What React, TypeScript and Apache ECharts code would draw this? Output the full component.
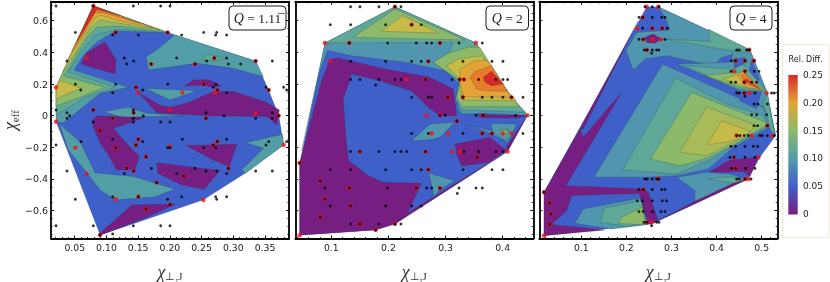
import React, { useEffect, useRef } from "react";
import * as echarts from "echarts";

type Pt = number[];
const PURPLE = "#761e81", BLUE = "#3f5fc9", STEEL = "#4f96ae", STEEL_Q1 = "#529ea6", TEAL = "#5fa796", GREEN = "#8cb96a",
  LIME = "#a9ba58", YELLOW = "#c6ba49", GOLD = "#e3a437", ORANGE = "#e87c2b", RED = "#d9282a";

const yRange = [-0.776, 0.72];
const xRanges = [[0.0126, 0.3878], [0.037, 0.4536], [0.0069, 0.5346]];
const xTicks = [[0.05, 0.1, 0.15, 0.2, 0.25, 0.3, 0.35], [0.1, 0.2, 0.3, 0.4], [0.1, 0.2, 0.3, 0.4, 0.5]];
const yTicks = [-0.6, -0.4, -0.2, 0, 0.2, 0.4, 0.6];
const xMinorSteps = [0.01, 0.02, 0.02];
const qLabels = ["1.11\u0305", "2", "4"];
const barLabels = ["0", "0.05", "0.10", "0.15", "0.20", "0.25"];

// Q = 1.11
const q1Hull: Pt[] = [[0.0206,0.18],[0.0794,0.693],[0.1966,0.526],[0.3353,0.345],[0.3558,0.162],[0.372,0],[0.3795,-0.185],[0.319,-0.364],[0.2528,-0.533],[0.09,-0.756],[0.0206,-0.038]];
const q1Steel: Pt[][] = [
  [[0.0206,-0.038],[0.0206,0.179],[0.0794,0.693],[0.1966,0.526],[0.1136,0.535],[0.0857,0.467],[0.0637,0.383],[0.049,0.288],[0.0847,0.242],[0.1346,0.179],[0.09,0.141],[0.0321,-0.044]],
  [[0.1966,0.526],[0.3353,0.345],[0.3474,0.246],[0.3,0.299],[0.2423,0.331],[0.1661,0.288],[0.1625,0.373],[0.1793,0.415],[0.2066,0.505]],
  [[0.1609,0.173],[0.2423,0.158],[0.2003,0.099]],
  [[0.0952,0.025],[0.1346,0.053],[0.1635,0.015],[0.2213,-0.002],[0.1582,-0.006],[0.1267,-0.011]],
  [[0.3196,-0.171],[0.3779,-0.118],[0.3795,-0.185],[0.319,-0.364],[0.3133,-0.343],[0.3474,-0.206]],
  [[0.0258,-0.053],[0.0584,-0.164],[0.0821,-0.36],[0.1425,-0.385],[0.2082,-0.465],[0.1766,-0.512],[0.1136,-0.533],[0.09,-0.469],[0.07,-0.364],[0.04,-0.217]],
];
const q1Teal: Pt[][] = [
  [[0.0206,0.004],[0.0206,0.179],[0.0794,0.693],[0.1966,0.526],[0.1162,0.545],[0.0821,0.509],[0.0584,0.394],[0.04,0.278],[0.1136,0.179],[0.0689,0.12]],
  [[0.2513,0.352],[0.2591,0.389],[0.2896,0.362],[0.2739,0.347]],
];
const q1Green: Pt[][] = [[[0.0206,0.061],[0.0206,0.179],[0.0794,0.693],[0.1966,0.526],[0.1215,0.566],[0.0847,0.558],[0.07,0.499],[0.049,0.362],[0.0321,0.251],[0.0978,0.179],[0.0584,0.116]]];
const q1Yellow: Pt[][] = [
  [[0.0206,0.105],[0.0206,0.179],[0.0258,0.225],[0.061,0.173],[0.04,0.141]],
  [[0.0311,0.278],[0.0794,0.693],[0.1845,0.541],[0.1293,0.579],[0.0889,0.604],[0.0742,0.552],[0.0505,0.394]],
];
const q1Gold: Pt[][] = [[[0.0374,0.341],[0.0794,0.693],[0.174,0.554],[0.1162,0.604],[0.09,0.636],[0.081,0.615],[0.061,0.488]]];
const q1Orange: Pt[][] = [[[0.0453,0.404],[0.0794,0.693],[0.153,0.583],[0.0952,0.651],[0.0821,0.651],[0.0637,0.52]]];
const q1Red: Pt[][] = [[[0.0521,0.457],[0.0794,0.693],[0.1215,0.632],[0.0847,0.672]]];
const q1Purple: Pt[][] = [
  [[0.06,0.326],[0.0689,0.398],[0.0978,0.467],[0.1152,0.352],[0.1136,0.263],[0.0742,0.309]],
  [[0.1519,0.141],[0.1845,0.067],[0.2003,0.053],[0.2266,0.078],[0.2686,0.152],[0.3,0.152],[0.35,0.088],[0.3727,0.036],[0.3685,-0.059],[0.3527,-0.006],[0.2581,0],[0.1793,0.019]],
  [[0.2229,0.187],[0.2371,0.225],[0.2607,0.229],[0.2817,0.187],[0.2686,0.179],[0.2502,0.194]],
  [[0.0768,-0.038],[0.0847,-0.002],[0.1609,-0.011],[0.111,-0.08],[0.1267,-0.154],[0.152,-0.259],[0.1451,-0.339],[0.1162,-0.343],[0.1031,-0.248],[0.09,-0.175],[0.0821,-0.101]],
  [[0.2255,-0.189],[0.3054,-0.181],[0.2938,-0.322],[0.2686,-0.28]],
  [[0.1793,-0.297],[0.2791,-0.347],[0.2539,-0.465],[0.2187,-0.438],[0.1808,-0.364]],
  [[0.0926,-0.733],[0.1399,-0.564],[0.2082,-0.558],[0.1688,-0.634],[0.09,-0.756]],
];
const q1BlackRows: [number, number[]][] = [
  [0.693,[0.0205,0.0793,0.1424,0.1855,0.2002]],[0.526,[0.051,0.1146,0.1965,0.2533,0.2738]],[0.509,[0.1098,0.1503,0.2186,0.2722,0.2895]],
  [0.364,[0.1282,0.2107,0.2701,0.2895]],[0.345,[0.0378,0.1429,0.258,0.3353,0.3615]],[0.326,[0.1319,0.1703,0.2396,0.2922,0.3116]],
  [0.198,[0.051,0.1146,0.1965,0.2533,0.2727]],[0.179,[0.1466,0.2685,0.3515,0.3794]],[0.162,[0.0594,0.1571,0.2748,0.3558,0.3841]],[0.145,[0.1098,0.2895]],
  [0.036,[0.0205,0.0793,0.1424]],[0.019,[0.0378,0.1429,0.257,0.3615]],[0,[0.042,0.1582,0.2853,0.3715]],[-0.017,[0.0378,0.1098,0.1424,0.257,0.3353,0.3615]],
  [-0.04,[0.0793,0.1424,0.1855,0.2002]],[-0.095,[0.0899]],[-0.149,[0.1098,0.1503,0.2197,0.2895]],[-0.164,[0.0599,0.1571,0.2748,0.3558,0.3841]],
  [-0.185,[0.0205,0.1466,0.2685,0.3515]],[-0.202,[0.1146,0.1965,0.2002,0.2533,0.2722]],[-0.259,[0.1624]],[-0.333,[0.1708,0.1319,0.2396,0.2922]],
  [-0.349,[0.0378,0.1429,0.257,0.2738,0.3353,0.3615]],[-0.366,[0.1282,0.2107,0.2895]],[-0.381,[0.2218]],[-0.423,[0.1792]],
  [-0.512,[0.1098,0.1503,0.2186,0.2722,0.2895]],[-0.528,[0.051,0.1965,0.2738]],[-0.562,[0.2002]],[-0.589,[0.1624]],
  [-0.695,[0.0205,0.0793,0.1424,0.1855,0.2002]],[-0.747,[0.1098]],[-0.754,[0.0899]],
];
const q1RedPoints: Pt[] = [[0.0205,0.179],[0.0205,-0.038],[0.051,-0.202],[0.0688,-0.366],[0.0688,0.364],[0.1146,0.526],[0.1708,0.326],[0.1965,0.526],[0.2396,0.326],[0.2701,0.364],[0.3353,0.345],[0.1466,0.179],[0.1503,0.145],[0.0793,0.036],[0.1098,-0.017],[0.0899,-0.095],[0.1146,-0.202],[0.1429,0.019],[0.1503,-0.149],[0.1466,-0.185],[0.2002,0.036],[0.2197,0.145],[0.2533,0.198],[0.2712,0.145],[0.2748,0.162],[0.3558,0.162],[0.3353,0.015],[0.3715,0],[0.3794,-0.185],[0.257,-0.017],[0.2685,-0.185],[0.2748,-0.164],[0.2002,-0.196],[0.2927,-0.333],[0.2218,-0.381],[0.1429,-0.349],[0.1319,-0.333],[0.1624,-0.259],[0.1792,-0.423],[0.1146,-0.528],[0.1503,-0.512],[0.1624,-0.589],[0.2002,-0.562],[0.2528,-0.533],[0.0899,-0.754],[0.0793,0.693]];

// Q = 2
const q2Hull: Pt[] = [[0.0889,0.459],[0.2114,0.688],[0.3532,0.459],[0.4156,0.116],[0.4436,0.002],[0.4086,-0.227],[0.2114,-0.684],[0.1776,-0.722],[0.0446,-0.756],[0.0446,-0.299]];
const q2Purple: Pt[][] = [
  [[0.0446,-0.299],[0.0446,-0.756],[0.1776,-0.722],[0.2114,-0.684],[0.2301,-0.638],[0.2581,-0.427],[0.191,-0.421],[0.1618,-0.373],[0.1298,-0.28],[0.1251,-0.116],[0.121,0.105],[0.1356,0.263],[0.1852,0.221],[0.2406,0.156],[0.2698,0.053],[0.2902,0],[0.3194,0],[0.3135,0.168],[0.2698,0.246],[0.1939,0.295],[0.1122,0.364],[0.0977,0.358],[0.083,0.221],[0.0627,-0.053]],
  [[0.3165,-0.179],[0.3777,-0.137],[0.4069,-0.221],[0.3748,-0.295],[0.3281,-0.318],[0.3194,-0.242]],
  [[0.3544,0.006],[0.4436,0.002],[0.4273,-0.015],[0.3631,-0.011]],
  [[0.2301,-0.621],[0.3923,-0.263],[0.4086,-0.227],[0.2114,-0.684]],
  [[0.4436,0.002],[0.4086,-0.227],[0.4057,-0.2],[0.4273,-0.084]],
];
const q2Steel: Pt[][] = [
  [[0.0889,0.459],[0.2114,0.688],[0.3532,0.459],[0.4156,0.116],[0.4436,0.002],[0.369,0.015],[0.3281,0.011],[0.3211,0.053],[0.3252,0.2],[0.299,0.284],[0.2289,0.337],[0.1356,0.379],[0.0936,0.411],[0.0802,0.284],[0.0597,-0.032],[0.0481,-0.221]],
  [[0.2406,-0.158],[0.2727,-0.053],[0.3165,-0.042],[0.2902,-0.137],[0.2698,-0.154]],
  [[0.2709,-0.364],[0.3165,-0.411],[0.2884,-0.469],[0.2803,-0.516]],
  [[0.3806,-0.048],[0.4244,-0.053],[0.4086,-0.168],[0.3818,-0.105]],
  [[0.3369,-0.057],[0.3806,-0.095],[0.404,-0.158],[0.3748,-0.105]],
];
const q2Teal: Pt[][] = [
  [[0.0889,0.459],[0.2114,0.688],[0.3532,0.459],[0.4156,0.116],[0.4402,0.021],[0.3281,0.036],[0.3176,0.105],[0.3252,0.221],[0.2785,0.337],[0.3048,0.389],[0.3135,0.463]],
  [[0.3923,-0.091],[0.411,-0.084],[0.4069,-0.147]],
];
const q2Green: Pt[][] = [
  [[0.1385,0.495],[0.2114,0.674],[0.334,0.478]],
  [[0.2785,0.337],[0.3048,0.394],[0.3398,0.432],[0.3602,0.432],[0.4098,0.137],[0.4302,0.057],[0.3281,0.057],[0.3194,0.116],[0.3252,0.221]],
  [[0.397,-0.095],[0.4086,-0.091],[0.4051,-0.126]],
];
const q2Yellow: Pt[][] = [
  [[0.1881,0.533],[0.2243,0.632],[0.2884,0.522]],
  [[0.3019,0.316],[0.3223,0.358],[0.3631,0.379],[0.404,0.168],[0.4244,0.095],[0.331,0.099],[0.3252,0.168],[0.3252,0.232]],
];
const q2Gold: Pt[][] = [[[0.3252,0.295],[0.3515,0.347],[0.3748,0.347],[0.4069,0.158],[0.4156,0.116],[0.331,0.12],[0.3252,0.211]]];
const q2Orange: Pt[][] = [[[0.3427,0.242],[0.3515,0.28],[0.3806,0.316],[0.4086,0.154],[0.369,0.158],[0.3544,0.168]]];
const q2Red: Pt[][] = [[[0.3661,0.242],[0.3806,0.28],[0.401,0.2],[0.3806,0.189],[0.369,0.211]]];
const q2BlackRows: [number, number[]][] = [
  [0.688,[0.1338,0.1502,0.1834,0.2114,0.2219]],[0.575,[0.0982,0.1338,0.1951,0.2406,0.2575]],[0.459,[0.1315,0.1986,0.2488,0.2669,0.2756,0.2902,0.3235,0.3643]],
  [0.343,[0.1338,0.1951,0.2406,0.2575,0.2698,0.3305,0.3812,0.4005]],[0.229,[0.1338,0.1502,0.1834,0.2114,0.2219,0.265,0.3112,0.3246,0.3322,0.3579,0.3882,0.4005,0.4086]],
  [0.194,[0.1776]],[0.116,[0.2406,0.2698,0.2756,0.3042,0.3305,0.3643,0.3812,0.4005,0.4156,0.4355]],[0.002,[0.2902,0.2995,0.3532,0.366,0.4226]],[-0.034,[0.3199]],
  [-0.112,[0.2406,0.2698,0.3305,0.3643,0.3812,0.4355]],[-0.227,[0.1338,0.1502,0.1834,0.2114,0.2219,0.2319,0.265,0.3322,0.3579,0.3882,0.4005]],[-0.263,[0.3555]],[-0.299,[0.0446]],
  [-0.341,[0.0982,0.1338,0.1951,0.2406,0.2575,0.2698,0.3305,0.3812,0.4005]],[-0.413,[0.0807]],[-0.457,[0.0889,0.1315,0.1986,0.2488,0.2669,0.2756,0.2902,0.3235,0.3532,0.3643]],
  [-0.491,[0.3205]],[-0.528,[0.0889]],[-0.571,[0.0982,0.1338,0.1951,0.2406,0.2575]],[-0.642,[0.0807]],[-0.684,[0.1338,0.1502,0.1834,0.2114,0.2219]],[-0.722,[0.1776]],
];
const q2RedPoints: Pt[] = [[0.2114,0.688],[0.2406,0.575],[0.0889,0.459],[0.1315,0.459],[0.2902,0.459],[0.3532,0.459],[0.0982,0.343],[0.2698,0.343],[0.2319,0.229],[0.265,0.229],[0.3246,0.229],[0.3322,0.229],[0.3042,0.116],[0.3305,0.116],[0.4156,0.116],[0.2669,0.002],[0.2902,0.002],[0.366,0.002],[0.4436,0.002],[0.3199,-0.034],[0.2756,-0.112],[0.3042,-0.112],[0.3643,-0.112],[0.3812,-0.112],[0.4005,-0.112],[0.4156,-0.112],[0.1502,-0.227],[0.265,-0.227],[0.3112,-0.227],[0.3258,-0.227],[0.4086,-0.227],[0.3555,-0.263],[0.2698,-0.341],[0.0807,-0.413],[0.1315,-0.457],[0.2488,-0.457],[0.2902,-0.457],[0.0889,-0.528],[0.1338,-0.571],[0.0807,-0.642],[0.1502,-0.684],[0.2114,-0.684],[0.1776,-0.722],[0.0446,-0.756],[0.0446,-0.299]];

// Q = 4
const q4Hull: Pt[] = [[0.0172,-0.484],[0.2449,0.688],[0.2707,0.688],[0.474,0.417],[0.5124,0.147],[0.5316,-0.126],[0.4962,-0.263],[0.4703,-0.4],[0.256,-0.684],[0.0172,-0.758]];
const q4Steel: Pt[][] = [
  [[0.2707,0.688],[0.474,0.417],[0.4111,0.368],[0.3927,0.316],[0.2892,0.379],[0.2412,0.358],[0.2153,0.288],[0.199,0.411],[0.2227,0.526],[0.2781,0.537],[0.2966,0.541],[0.2855,0.621]],
  [[0.3114,0.326],[0.4296,0.337],[0.4385,0.411],[0.474,0.417],[0.5124,0.147],[0.5183,0],[0.5036,0.053],[0.4518,0.158]],
  [[0.1281,-0.389],[0.2803,0.326],[0.4444,0.116],[0.5036,0.053],[0.5198,-0.069],[0.437,-0.2],[0.3816,-0.337],[0.3114,-0.379],[0.2412,-0.389]],
  [[0.3114,-0.389],[0.3779,-0.358],[0.4296,-0.368],[0.4666,-0.4],[0.3521,-0.541],[0.3521,-0.474]],
  [[0.086,-0.68],[0.1044,-0.589],[0.2301,-0.52],[0.2449,-0.663],[0.2486,-0.688],[0.1673,-0.716]],
];
const q4Teal: Pt[][] = [
  [[0.2855,0.484],[0.3853,0.469],[0.3816,0.547],[0.474,0.417],[0.4666,0.4],[0.4296,0.411],[0.3705,0.442]],
  [[0.3276,0.316],[0.437,0.295],[0.4592,0.326],[0.5124,0.147],[0.4481,0.168]],
  [[0.5124,0.147],[0.5294,-0.126],[0.5198,-0.095],[0.5036,0.074]],
  [[0.1917,-0.343],[0.3092,0.238],[0.4223,0.074],[0.5036,0],[0.5147,-0.063],[0.437,-0.189],[0.389,-0.274],[0.3114,-0.368]],
  [[0.38,-0.4],[0.437,-0.385],[0.4592,-0.411],[0.4385,-0.427]],
  [[0.1414,-0.674],[0.1525,-0.583],[0.2338,-0.537],[0.2412,-0.653],[0.2079,-0.701]],
];
const q4Green: Pt[][] = [
  [[0.3742,0.253],[0.4459,0.274],[0.5036,0.158],[0.4481,0.183]],
  [[0.2537,-0.274],[0.3447,0.147],[0.5036,-0.036],[0.5124,-0.057],[0.4408,-0.179],[0.3742,-0.274],[0.3188,-0.316]],
  [[0.182,-0.68],[0.1894,-0.642],[0.2338,-0.579],[0.2412,-0.653],[0.2338,-0.688]],
];
const q4Lime: Pt[][] = [[[0.3173,-0.232],[0.3779,0.057],[0.4888,-0.063],[0.4518,-0.147],[0.3779,-0.253]]];
const q4Yellow: Pt[][] = [
  [[0.3794,-0.183],[0.4111,-0.032],[0.474,-0.099],[0.4592,-0.133],[0.4222,-0.168]],
  [[0.4149,0.232],[0.4518,0.263],[0.4998,0.162],[0.4518,0.196]],
  [[0.2338,-0.667],[0.2412,-0.655],[0.2449,-0.68]],
];
const q4Gold: Pt[][] = [[[0.4459,0.259],[0.4592,0.28],[0.5021,0.162],[0.4666,0.179]]];
const q4Orange: Pt[][] = [[[0.4533,0.253],[0.4629,0.263],[0.4976,0.168],[0.4681,0.196]]];
const q4Red: Pt[][] = [[[0.4607,0.225],[0.4666,0.232],[0.4962,0.168]]];
const q4Blue: Pt[][] = [
  [[0.437,0.358],[0.4629,0.368],[0.4592,0.284],[0.4408,0.295]],
  [[0.4777,0.352],[0.4962,0.221],[0.4703,0.253]],
  [[0.4444,0.154],[0.4998,0.154],[0.4888,0.042],[0.4518,0.095]],
];
const q4Purple: Pt[][] = [
  [[0.0172,-0.484],[0.097,-0.084],[0.1044,-0.137],[0.1894,0.147],[0.066,-0.442],[0.2375,-0.463],[0.2486,-0.484],[0.2707,-0.663],[0.2523,-0.688],[0.2412,-0.621],[0.2286,-0.491],[0.0786,-0.505],[0.0675,-0.6],[0.0342,-0.688],[0.1525,-0.722],[0.0172,-0.758]],
  [[0.097,-0.084],[0.2264,0.6],[0.1044,-0.084]],
  [[0.256,-0.684],[0.4703,-0.4],[0.437,-0.427],[0.3521,-0.541]],
  [[0.3853,-0.354],[0.4296,-0.28],[0.4925,-0.263],[0.474,-0.385],[0.4592,-0.352],[0.4075,-0.358]],
  [[0.2412,0.495],[0.2596,0.516],[0.2781,0.484],[0.2633,0.457],[0.2449,0.463]],
];
const q4BlackRows: [number, number[]][] = [
  [0.688,[0.2412,0.2574,0.2722]],[0.621,[0.2279,0.236,0.2574,0.2781,0.2855]],[0.552,[0.236,0.2574,0.2796,0.2907]],[0.482,[0.2279,0.2375,0.2855]],
  [0.415,[0.2397,0.2456,0.2574,0.267,0.2722,0.4444,0.4503,0.4666,0.4725]],[0.394,[0.256]],[0.347,[0.4333,0.4422,0.4629,0.4829]],[0.28,[0.4319,0.4629,0.4836,0.494]],
  [0.211,[0.4319,0.4422,0.4614,0.4777,0.4888]],[0.143,[0.4444,0.4503,0.4614,0.4851,0.522,0.5279]],[0.122,[0.4629]],[0.074,[0.4829,0.491,0.5124]],[0.006,[0.4777,0.4888,0.511]],
  [-0.063,[0.4829,0.491,0.5124]],[-0.126,[0.4444,0.4518,0.4614,0.4703,0.4962,0.5013,0.5124,0.5279]],[-0.194,[0.4319,0.4422,0.4629,0.4814,0.491]],[-0.263,[0.4296,0.4385,0.4629,0.4851]],
  [-0.333,[0.4333,0.4422,0.4644,0.4851]],[-0.4,[0.2412,0.2463,0.2574,0.267,0.2722,0.4444,0.4503,0.4629,0.4762]],[-0.467,[0.2279,0.2375,0.2574,0.2781,0.2855]],
  [-0.537,[0.2242,0.236,0.2574,0.2796,0.2892]],[-0.606,[0.2279,0.2375,0.2574,0.2766,0.2855]],[-0.674,[0.2397,0.2456,0.267,0.2722]],[-0.695,[0.256]],
  [-0.484,[0.0172]],[-0.552,[0.0298]],[-0.621,[0.0327]],[-0.688,[0.0298]],
];
const q4RedPoints: Pt[] = [[0.2449,0.688],[0.2707,0.688],[0.236,0.621],[0.2242,0.552],[0.2574,0.552],[0.2796,0.552],[0.2375,0.482],[0.2582,0.482],[0.2766,0.482],[0.2456,0.415],[0.4725,0.417],[0.4422,0.347],[0.4629,0.347],[0.4829,0.347],[0.4393,0.28],[0.4629,0.28],[0.4614,0.211],[0.4614,0.143],[0.4725,0.143],[0.511,0.143],[0.5124,-0.063],[0.4444,-0.126],[0.4777,-0.126],[0.522,-0.126],[0.4385,-0.263],[0.4932,-0.263],[0.4422,-0.333],[0.4629,-0.4],[0.4703,-0.4],[0.2707,-0.4],[0.2375,-0.467],[0.2456,-0.674],[0.256,-0.674],[0.0172,-0.484],[0.0298,-0.552],[0.0327,-0.621],[0.0298,-0.688],[0.0172,-0.758]];

const layers: [string, Pt[][]][][] = [
  [[BLUE,[q1Hull]],[STEEL_Q1,q1Steel],[TEAL,q1Teal],[GREEN,q1Green],[YELLOW,q1Yellow],[GOLD,q1Gold],[ORANGE,q1Orange],[RED,q1Red],[PURPLE,q1Purple]],
  [[BLUE,[q2Hull]],[PURPLE,q2Purple],[STEEL,q2Steel],[TEAL,q2Teal],[GREEN,q2Green],[YELLOW,q2Yellow],[GOLD,q2Gold],[ORANGE,q2Orange],[RED,q2Red]],
  [[BLUE,[q4Hull]],[STEEL,q4Steel],[BLUE,q4Blue],[TEAL,q4Teal],[GREEN,q4Green],[LIME,q4Lime],[YELLOW,q4Yellow],[GOLD,q4Gold],[ORANGE,q4Orange],[RED,q4Red],[PURPLE,q4Purple]],
];
const blackRows = [q1BlackRows, q2BlackRows, q4BlackRows];
const redPoints = [q1RedPoints, q2RedPoints, q4RedPoints];

const FONT = "DejaVu Sans";
const grids = [
  { left: 51, width: 238 }, { left: 295.3, width: 238 }, { left: 539.3, width: 238 },
];
const boxes = [{ x: 229, w: 57 }, { x: 486, w: 42.5 }, { x: 730, w: 42 }];

function steps(a: number, b: number, s: number) {
  const out: number[] = [];
  for (let k = Math.ceil(a / s - 1e-6); k * s <= b + 1e-9; k++) out.push(+(k * s).toFixed(4));
  return out;
}
const minus = (s: string) => s.replace("-", "\u2212");

function buildAxes(i: number) {
  const [xmin, xmax] = xRanges[i];
  const [ymin, ymax] = yRange;
  const line = { show: true, lineStyle: { color: "#000", width: 1.8 }, onZero: false };
  const noLine = { show: false, onZero: false };
  const xs: any[] = [], ys: any[] = [];
  const titleRich = {
    a: { fontFamily: "Liberation Serif", fontStyle: "italic", fontSize: 18, color: "#333" },
    b: { fontFamily: "Liberation Serif", fontSize: 11, color: "#333", verticalAlign: "bottom", padding: [9, 0, 0, 0] },
  };
  for (const pos of ["bottom", "top"]) {
    xs.push({
      type: "value", gridIndex: i, position: pos, min: xmin, max: xmax, axisLine: line, splitLine: { show: false },
      axisTick: { show: true, inside: true, length: 3, customValues: xTicks[i], lineStyle: { color: "#000", width: 1 } },
      axisLabel: pos === "bottom"
        ? { show: true, customValues: xTicks[i], margin: 4, fontFamily: FONT, fontSize: 9.3, color: "#222",
            formatter: (v: number) => v.toFixed(i === 0 ? 2 : 1) }
        : { show: false },
      ...(pos === "bottom" ? { name: "{a|\u03C7}{b|\u22A5,J}", nameLocation: "middle", nameGap: 23, nameTextStyle: { rich: titleRich } } : {}),
    });
    xs.push({
      type: "value", gridIndex: i, position: pos, min: xmin, max: xmax, axisLine: noLine, splitLine: { show: false },
      axisTick: { show: true, inside: true, length: 1.6, customValues: steps(xmin, xmax, xMinorSteps[i]), lineStyle: { color: "#000", width: 0.8 } },
      axisLabel: { show: false },
    });
  }
  for (const pos of ["left", "right"]) {
    ys.push({
      type: "value", gridIndex: i, position: pos, min: ymin, max: ymax, axisLine: line, splitLine: { show: false },
      axisTick: { show: true, inside: true, length: 3, customValues: yTicks, lineStyle: { color: "#000", width: 1 } },
      axisLabel: pos === "left" && i === 0
        ? { show: true, customValues: yTicks, margin: 3, fontFamily: FONT, fontSize: 9.5, color: "#222",
            formatter: (v: number) => (Math.abs(v) < 1e-9 ? "0" : minus(v.toFixed(1))) }
        : { show: false },
      ...(pos === "left" && i === 0
        ? { name: "{a|\u03C7}{b|eff}", nameLocation: "middle", nameGap: 31, nameTextStyle: { rich: titleRich } } : {}),
    });
    ys.push({
      type: "value", gridIndex: i, position: pos, min: ymin, max: ymax, axisLine: noLine, splitLine: { show: false },
      axisTick: { show: true, inside: true, length: 1.6, customValues: steps(ymin, ymax, 0.05), lineStyle: { color: "#000", width: 0.8 } },
      axisLabel: { show: false },
    });
  }
  return { xs, ys };
}

function buildSeries(i: number) {
  const polys: { color: string; pts: Pt[] }[] = [];
  layers[i].forEach(([color, list]) => list.forEach((pts) => polys.push({ color, pts })));
  const axisIdx = { xAxisIndex: i * 4, yAxisIndex: i * 4 };
  const black: Pt[] = [];
  blackRows[i].forEach(([y, xsRow]) => xsRow.forEach((x) => black.push([x, y])));
  return [
    {
      type: "custom", ...axisIdx, silent: true, z: 2, clip: true,
      data: polys.map((_, k) => [k]),
      renderItem: (_p: any, api: any) => {
        const poly = polys[api.value(0)];
        const isHull = api.value(0) === 0;
        return {
          type: "polygon",
          shape: { points: poly.pts.map((p) => api.coord(p)) },
          style: { fill: poly.color, stroke: isHull ? "none" : "rgba(45,60,50,0.38)", lineWidth: 0.6 },
        };
      },
    },
    { type: "scatter", ...axisIdx, silent: true, z: 3, symbolSize: 4.4, itemStyle: { color: "#f60f0f" }, data: redPoints[i] },
    { type: "scatter", ...axisIdx, silent: true, z: 4, symbolSize: 2.9, itemStyle: { color: "#000" }, data: black },
  ];
}

function buildGraphic() {
  const g: any[] = [];
  boxes.forEach((b, i) => {
    g.push({ type: "rect", z: 50, shape: { x: b.x, y: 6, width: b.w, height: 24, r: 4 }, style: { fill: "#fff", stroke: "#000", lineWidth: 0.9 } });
    g.push({
      type: "text", z: 51, x: b.x + b.w / 2, y: 18,
      style: {
        text: "{q|Q}{n| = " + qLabels[i] + "}", align: "center", verticalAlign: "middle",
        rich: {
          q: { fontFamily: "Liberation Serif", fontStyle: "italic", fontSize: 14, fill: "#222" },
          n: { fontFamily: "Liberation Serif", fontSize: 13.5, fill: "#222" },
        },
      },
    });
  });
  g.push({ type: "rect", z: 50, shape: { x: 782.5, y: 44.5, width: 46.5, height: 193 }, style: { fill: "#fff", stroke: "#f2ecd9", lineWidth: 1 } });
  g.push({ type: "text", z: 51, x: 805.5, y: 59, style: { text: "Rel. Diff.", align: "center", verticalAlign: "middle", fontFamily: FONT, fontSize: 8, fill: "#222" } });
  g.push({
    type: "rect", z: 51, shape: { x: 788.3, y: 75, width: 9.4, height: 139.5 },
    style: {
      fill: new echarts.graphic.LinearGradient(0, 0, 0, 1, [
        { offset: 0, color: "#d9282a" }, { offset: 0.2, color: "#e3a437" }, { offset: 0.4, color: "#8cb96a" },
        { offset: 0.6, color: "#4f9ca8" }, { offset: 0.8, color: "#3f5fc9" }, { offset: 1, color: "#761e81" },
      ]),
    },
  });
  barLabels.forEach((t, k) => {
    g.push({ type: "text", z: 51, x: 803, y: 214 - (k * 139) / 5, style: { text: t, align: "left", verticalAlign: "middle", fontFamily: FONT, fontSize: 9, fill: "#222" } });
  });
  return g;
}

export default function App() {
  const ref = useRef<HTMLDivElement>(null);
  useEffect(() => {
    if (!ref.current) return;
    const chart = echarts.init(ref.current, undefined, { renderer: "svg" });
    const xAxis: any[] = [], yAxis: any[] = [], series: any[] = [];
    grids.forEach((_, i) => {
      const { xs, ys } = buildAxes(i);
      xAxis.push(...xs);
      yAxis.push(...ys);
      series.push(...buildSeries(i));
    });
    chart.setOption({
      animation: false,
      backgroundColor: "#fff",
      grid: grids.map((g) => ({ left: g.left, width: g.width, top: 1.7, height: 236.8, containLabel: false, outerBoundsMode: "none" })),
      xAxis, yAxis, series, graphic: buildGraphic(),
    });
    return () => chart.dispose();
  }, []);
  return <div ref={ref} style={{ position: "fixed", left: 0, top: 0, width: 830, height: 282, filter: "blur(0.4px)" }} />;
}
